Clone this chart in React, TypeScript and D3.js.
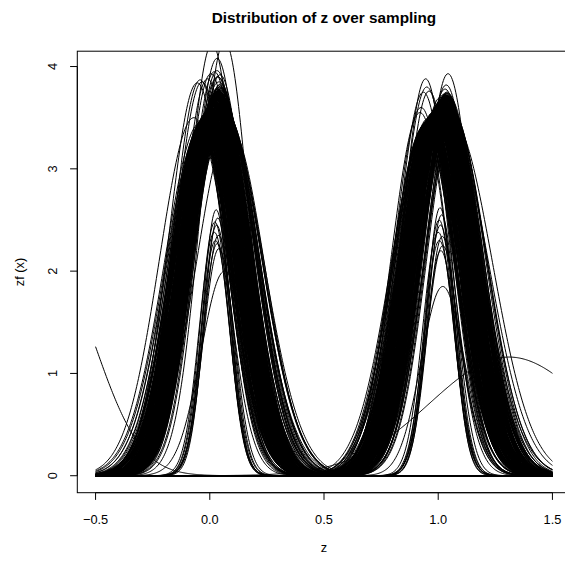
import React from "react";
import * as d3 from "d3";

// ---- Data ----
const TITLE = "Distribution of z over sampling";
const X_LABEL = "z";
const Y_LABEL = "zf (x)";
const xTicks = [-0.5, 0, 0.5, 1, 1.5];
const xTickLabels = ["\u22120.5", "0.0", "0.5", "1.0", "1.5"];
const yTicks = [0, 1, 2, 3, 4];
const yTickLabels = ["0", "1", "2", "3", "4"];
const gridFrom = -0.5;
const gridTo = 1.5;
const gridN = 512;

// Bump around z = 0: centre, peak height and spread of each sampled density
const leftCenters = [
  0.012, -0.021, 0.034, 0.005, 0.048, -0.038, 0.019, 0.027, -0.009, 0.061,
  0.002, 0.041, -0.042, 0.015, 0.030, -0.015, 0.055, 0.008, -0.027, 0.022,
  0.037, -0.004, 0.068, 0.011, -0.033, 0.025, 0.046, -0.011, 0.018, 0.033,
  -0.031, 0.063, 0.001, 0.029, -0.045, 0.014, 0.052, -0.019, 0.024, 0.040,
  0.006, -0.034, 0.058, 0.017, -0.006, 0.036, 0.010, -0.024, 0.044, 0.021,
  0.072, -0.013, 0.031, 0.003, -0.040, 0.026, 0.050, -0.002, 0.016, 0.039,
  -0.029, 0.067, 0.009, 0.023, -0.044, 0.013, 0.047, -0.017, 0.028, 0.043,
  0.004, -0.036, 0.057, 0.020, -0.008, 0.035, 0.074, -0.022, 0.042, 0.019,
  0.018, -0.012, 0.041, 0.007, 0.029, -0.033, 0.054, 0.013, -0.004, 0.036,
  0.021, -0.026, 0.047, 0.002, 0.031, -0.018, 0.060, 0.010, -0.041, 0.024,
  0.039, -0.007, 0.070, 0.015, -0.039, 0.027, 0.044, -0.015, 0.019, 0.034,
  -0.028, 0.066, 0.004, 0.032, -0.043, 0.011, 0.050, -0.021, 0.026, 0.042,
  0.008, -0.036, 0.056, 0.016, -0.001, 0.038, 0.012, -0.023, 0.046, 0.022,
  0.065, -0.010, 0.033, 0.006, -0.037, 0.028, 0.052, 0.000, 0.017, 0.040,
  -0.030, 0.064, 0.009, 0.025, -0.045, 0.014, 0.048, -0.016, 0.030, 0.045,
  0.003, -0.038, 0.058, 0.020, -0.005, 0.023, -0.008, 0.037, 0.001, 0.049,
  -0.025, 0.016, 0.031, -0.014, 0.059, 0.005, 0.043, -0.019, 0.053, 0.011,
  0.024, -0.031, 0.035, 0.014, -0.039, 0.020, 0.036, -0.002, 0.068, 0.013,
  0.029, 0.047, -0.009, 0.020, 0.036, -0.034, 0.061, 0.003, 0.026, -0.026,
  0.012, 0.049, -0.005, 0.019, 0.037, 0.055, -0.043, 0.007, 0.021, 0.044,
];
const leftSds = [
  0.128, 0.135, 0.118, 0.142, 0.111, 0.150, 0.125, 0.131, 0.122, 0.146,
  0.137, 0.115, 0.156, 0.126, 0.133, 0.119, 0.140, 0.129, 0.108, 0.124,
  0.132, 0.121, 0.160, 0.127, 0.113, 0.136, 0.144, 0.117, 0.130, 0.123,
  0.139, 0.152, 0.126, 0.114, 0.147, 0.129, 0.120, 0.134, 0.105, 0.138,
  0.125, 0.131, 0.141, 0.116, 0.128, 0.122, 0.149, 0.112, 0.135, 0.127,
  0.158, 0.124, 0.119, 0.137, 0.130, 0.143, 0.110, 0.128, 0.133, 0.121,
  0.126, 0.148, 0.134, 0.118, 0.153, 0.131, 0.123, 0.139, 0.114, 0.129,
  0.136, 0.107, 0.145, 0.127, 0.120, 0.132, 0.163, 0.124, 0.130, 0.117,
  0.129, 0.140, 0.121, 0.134, 0.115, 0.146, 0.126, 0.131, 0.119, 0.137,
  0.123, 0.133, 0.150, 0.128, 0.112, 0.141, 0.125, 0.136, 0.118, 0.130,
  0.144, 0.120, 0.157, 0.127, 0.135, 0.109, 0.132, 0.124, 0.139, 0.126,
  0.131, 0.146, 0.117, 0.129, 0.122, 0.154, 0.128, 0.113, 0.137, 0.125,
  0.134, 0.119, 0.142, 0.126, 0.131, 0.121, 0.148, 0.130, 0.115, 0.127,
  0.161, 0.124, 0.136, 0.103, 0.129, 0.138, 0.122, 0.133, 0.126, 0.143,
  0.120, 0.151, 0.130, 0.116, 0.140, 0.127, 0.124, 0.135, 0.111, 0.132,
  0.128, 0.137, 0.145, 0.122, 0.130, 0.118, 0.134, 0.126, 0.147, 0.121,
  0.133, 0.125, 0.114, 0.139, 0.152, 0.129, 0.120, 0.136, 0.127, 0.131,
  0.124, 0.143, 0.130, 0.117, 0.128, 0.155, 0.135, 0.122, 0.140, 0.126,
  0.119, 0.132, 0.127, 0.148, 0.125, 0.138, 0.129, 0.113, 0.134, 0.142,
  0.130, 0.121, 0.136, 0.127, 0.165, 0.126, 0.131, 0.144, 0.123, 0.128,
];
const leftPeaks = [
  3.62, 3.48, 3.75, 3.55, 3.81, 3.40, 3.66, 3.70, 3.52, 3.58,
  3.60, 3.72, 3.45, 3.64, 3.78, 3.50, 3.68, 3.57, 3.46, 3.69,
  3.74, 3.53, 3.55, 3.61, 3.43, 3.71, 3.77, 3.51, 3.63, 3.73,
  3.47, 3.60, 3.56, 3.76, 3.38, 3.65, 3.79, 3.49, 3.67, 3.85,
  3.59, 3.44, 3.66, 3.62, 3.54, 3.71, 3.58, 3.47, 3.80, 3.64,
  3.50, 3.52, 3.70, 3.57, 3.42, 3.68, 3.74, 3.55, 3.61, 3.77,
  3.43, 3.57, 3.60, 3.72, 3.36, 3.63, 3.83, 3.50, 3.69, 3.75,
  3.56, 3.41, 3.62, 3.66, 3.53, 3.90, 3.45, 3.48, 3.73, 3.59,
  3.66, 3.55, 3.74, 3.60, 3.69, 3.47, 3.63, 3.62, 3.57, 3.76,
  3.70, 3.50, 3.71, 3.58, 3.67, 3.52, 3.59, 3.64, 3.44, 3.72,
  3.68, 3.56, 3.54, 3.61, 3.40, 3.73, 3.66, 3.53, 3.65, 3.78,
  3.49, 3.56, 3.59, 3.71, 3.38, 3.63, 3.69, 3.51, 3.68, 3.80,
  3.60, 3.46, 3.64, 3.66, 3.55, 3.72, 3.61, 3.50, 3.75, 3.67,
  3.52, 3.54, 3.70, 3.58, 3.43, 3.69, 3.71, 3.57, 3.63, 3.74,
  3.47, 3.58, 3.62, 3.70, 3.35, 3.64, 3.78, 3.52, 3.68, 3.72,
  3.59, 3.45, 3.61, 3.65, 3.56, 3.66, 3.53, 3.70, 3.58, 3.77,
  3.50, 3.64, 3.68, 3.55, 3.62, 3.60, 3.82, 3.49, 3.65, 3.63,
  3.69, 3.44, 3.72, 3.64, 3.42, 3.66, 3.73, 3.57, 3.54, 3.61,
  3.71, 3.76, 3.51, 3.65, 3.70, 3.46, 3.63, 3.58, 3.74, 3.48,
  3.62, 3.79, 3.55, 3.67, 3.73, 3.64, 3.41, 3.60, 3.69, 3.75,
];
// Individually visible curves of the z = 0 bump: [centre, peak, spread]
const leftSpecial: number[][] = [
  [0.035, 3.90, 0.115], [0.032, 3.96, 0.114], [-0.034, 3.85, 0.120], [0.020, 3.95, 0.115],
  [0.005, 3.93, 0.116], [0.032, 4.08, 0.111], [0.010, 4.22, 0.108], [0.065, 4.25, 0.107],
  [0.045, 3.92, 0.116], [-0.010, 3.88, 0.117], [-0.055, 3.84, 0.125], [-0.042, 3.87, 0.120],
  [-0.070, 3.50, 0.150], [0.090, 3.40, 0.150],
  [0.030, 2.45, 0.062], [0.025, 2.30, 0.064], [0.035, 2.52, 0.060], [0.020, 2.38, 0.066],
  [0.040, 2.22, 0.068], [0.028, 2.60, 0.060], [0.033, 2.27, 0.065], [0.022, 2.48, 0.063],
  [0.038, 2.35, 0.064], [0.065, 2.00, 0.103],
];

// Bump around z = 1
const rightCenters = [
  1.000, 0.975, 1.025, 0.990, 1.040, 0.960, 1.010, 1.020, 0.985, 1.055,
  0.995, 1.035, 0.950, 1.005, 1.028, 0.980, 1.048, 1.002, 0.968, 1.015,
  1.032, 0.992, 1.065, 1.008, 0.955, 1.018, 1.042, 0.988, 1.012, 1.030,
  0.970, 1.058, 0.998, 1.025, 0.940, 1.006, 1.045, 0.978, 1.016, 1.036,
  1.001, 0.962, 1.052, 1.011, 0.986, 1.030, 1.004, 0.973, 1.040, 1.014,
  1.068, 0.983, 1.022, 0.996, 0.948, 1.019, 1.046, 0.994, 1.009, 1.033,
  0.966, 1.062, 1.003, 1.017, 0.935, 1.007, 1.038, 0.981, 1.021, 1.035,
  0.999, 0.958, 1.050, 1.013, 0.989, 1.027, 1.070, 0.976, 1.043, 1.010,
  1.008, 0.978, 1.031, 0.994, 1.046, 0.964, 1.014, 1.024, 0.987, 1.059,
  1.000, 1.038, 0.952, 1.009, 1.026, 0.982, 1.051, 1.004, 0.971, 1.018,
  1.034, 0.991, 1.066, 1.011, 0.958, 1.021, 1.044, 0.985, 1.015, 1.028,
  0.968, 1.055, 0.997, 1.027, 0.943, 1.003, 1.041, 0.976, 1.019, 1.037,
  0.998, 0.959, 1.049, 1.013, 0.984, 1.032, 1.006, 0.975, 1.042, 1.016,
  1.066, 0.980, 1.024, 0.993, 0.950, 1.017, 1.047, 0.991, 1.011, 1.035,
  0.963, 1.060, 1.000, 1.019, 0.938, 1.005, 1.039, 0.979, 1.023, 1.033,
  0.996, 0.955, 1.053, 1.010, 0.987, 1.003, 0.972, 1.027, 0.988, 1.043,
  0.957, 1.012, 1.022, 0.983, 1.057, 0.997, 1.033, 0.947, 1.007, 1.030,
  0.977, 1.050, 1.000, 0.965, 1.020, 0.990, 1.062, 1.008, 0.942, 1.014,
  1.029, 0.986, 1.040, 0.999, 1.054, 0.969, 1.006, 1.021, 0.961, 1.037,
  1.012, 0.975, 1.045, 0.995, 1.026, 0.953, 1.016, 1.034, 0.982, 1.048,
];
const rightSds = [
  0.131, 0.124, 0.140, 0.119, 0.135, 0.152, 0.127, 0.116, 0.138, 0.129,
  0.122, 0.147, 0.130, 0.113, 0.141, 0.126, 0.158, 0.121, 0.134, 0.110,
  0.137, 0.128, 0.119, 0.145, 0.132, 0.124, 0.150, 0.130, 0.115, 0.139,
  0.126, 0.133, 0.162, 0.118, 0.129, 0.143, 0.121, 0.136, 0.108, 0.131,
  0.140, 0.125, 0.117, 0.133, 0.148, 0.127, 0.122, 0.137, 0.130, 0.144,
  0.119, 0.135, 0.128, 0.155, 0.124, 0.131, 0.114, 0.142, 0.126, 0.136,
  0.130, 0.121, 0.146, 0.127, 0.138, 0.112, 0.134, 0.125, 0.151, 0.123,
  0.136, 0.129, 0.120, 0.141, 0.126, 0.167, 0.131, 0.118, 0.134, 0.128,
  0.125, 0.139, 0.132, 0.116, 0.144, 0.130, 0.123, 0.137, 0.127, 0.153,
  0.133, 0.118, 0.149, 0.129, 0.121, 0.136, 0.126, 0.142, 0.115, 0.131,
  0.127, 0.144, 0.124, 0.135, 0.111, 0.130, 0.139, 0.122, 0.157, 0.128,
  0.138, 0.126, 0.133, 0.120, 0.147, 0.129, 0.116, 0.134, 0.125, 0.140,
  0.123, 0.136, 0.128, 0.152, 0.130, 0.119, 0.141, 0.127, 0.132, 0.114,
  0.146, 0.131, 0.122, 0.137, 0.125, 0.160, 0.128, 0.133, 0.118, 0.135,
  0.129, 0.120, 0.143, 0.126, 0.139, 0.124, 0.131, 0.106, 0.136, 0.127,
  0.134, 0.142, 0.125, 0.130, 0.117, 0.138, 0.122, 0.148, 0.129, 0.133,
  0.121, 0.137, 0.128, 0.145, 0.126, 0.132, 0.119, 0.140, 0.135, 0.124,
  0.139, 0.126, 0.154, 0.123, 0.131, 0.128, 0.143, 0.120, 0.136, 0.130,
  0.125, 0.148, 0.132, 0.118, 0.141, 0.127, 0.134, 0.129, 0.112, 0.145,
  0.132, 0.123, 0.137, 0.164, 0.128, 0.135, 0.121, 0.139, 0.126, 0.130,
];
const rightPeaks = [
  3.62, 3.55, 3.68, 3.58, 3.64, 3.50, 3.70, 3.66, 3.56, 3.57,
  3.61, 3.72, 3.46, 3.65, 3.69, 3.53, 3.63, 3.60, 3.49, 3.67,
  3.71, 3.57, 3.52, 3.62, 3.45, 3.68, 3.66, 3.55, 3.64, 3.70,
  3.51, 3.58, 3.59, 3.73, 3.42, 3.63, 3.69, 3.52, 3.66, 3.74,
  3.60, 3.48, 3.61, 3.65, 3.54, 3.70, 3.59, 3.50, 3.72, 3.64,
  3.48, 3.54, 3.69, 3.58, 3.44, 3.67, 3.68, 3.56, 3.62, 3.71,
  3.47, 3.55, 3.61, 3.68, 3.40, 3.63, 3.75, 3.53, 3.66, 3.70,
  3.57, 3.47, 3.62, 3.64, 3.55, 3.35, 3.48, 3.52, 3.69, 3.60,
  3.64, 3.54, 3.70, 3.59, 3.62, 3.49, 3.68, 3.65, 3.57, 3.55,
  3.61, 3.71, 3.45, 3.66, 3.68, 3.52, 3.61, 3.62, 3.50, 3.67,
  3.72, 3.56, 3.50, 3.63, 3.47, 3.69, 3.65, 3.55, 3.65, 3.71,
  3.51, 3.57, 3.58, 3.72, 3.43, 3.62, 3.70, 3.54, 3.67, 3.73,
  3.59, 3.47, 3.63, 3.64, 3.56, 3.69, 3.60, 3.51, 3.71, 3.65,
  3.49, 3.54, 3.68, 3.58, 3.44, 3.66, 3.67, 3.57, 3.63, 3.70,
  3.48, 3.56, 3.62, 3.69, 3.41, 3.64, 3.74, 3.54, 3.67, 3.71,
  3.58, 3.46, 3.63, 3.65, 3.56, 3.60, 3.51, 3.68, 3.55, 3.66,
  3.49, 3.66, 3.69, 3.55, 3.57, 3.61, 3.70, 3.45, 3.64, 3.72,
  3.53, 3.62, 3.60, 3.50, 3.68, 3.57, 3.56, 3.65, 3.43, 3.67,
  3.70, 3.55, 3.66, 3.59, 3.60, 3.50, 3.64, 3.69, 3.48, 3.71,
  3.63, 3.52, 3.67, 3.58, 3.70, 3.47, 3.66, 3.71, 3.54, 3.62,
];
// Individually visible curves of the z = 1 bump: [centre, peak, spread]
const rightSpecial: number[][] = [
  [0.950, 3.80, 0.115], [0.945, 3.88, 0.105], [0.935, 3.75, 0.115], [1.043, 3.93, 0.110],
  [1.035, 3.82, 0.115], [0.925, 3.60, 0.120], [0.960, 3.76, 0.112], [1.030, 3.78, 0.118],
  [1.050, 3.70, 0.125], [0.920, 3.55, 0.125], [1.065, 3.45, 0.172], [1.055, 3.38, 0.168],
  [0.950, 3.45, 0.155],
  [1.010, 2.45, 0.064], [1.005, 2.30, 0.066], [1.015, 2.55, 0.062], [1.000, 2.38, 0.068],
  [1.020, 2.25, 0.070], [1.008, 2.62, 0.060], [1.012, 2.20, 0.067], [1.004, 2.50, 0.063],
  [1.018, 2.34, 0.065], [1.020, 1.85, 0.095],
];

// Odd broad curves: [centre, peak, spread]
const outlierCurves: number[][] = [
  [-0.70, 2.08, 0.20],
  [1.31, 1.16, 0.35],
];

// ---- Layout ----
const W = 565;
const H = 565;
const xScale = d3.scaleLinear().domain([-0.58, 1.58]).range([77.3, 570.7]);
const yScale = d3.scaleLinear().domain([-0.166, 4.15]).range([492.7, 51.2]);

const grid = d3.range(gridN).map((i) => gridFrom + ((gridTo - gridFrom) * i) / (gridN - 1));

const bump = (c: number, h: number, s: number) => (x: number) => {
  const t = (x - c) / s;
  return h * Math.exp(-0.5 * t * t);
};

const line = d3
  .line<[number, number]>()
  .x((d) => xScale(d[0]))
  .y((d) => yScale(d[1]));

function curvePath(f: (x: number) => number) {
  return line(grid.map((x) => [x, f(x)] as [number, number])) || "";
}

const curves: number[][] = [
  ...leftCenters.map((c, i) => [c, leftPeaks[i], leftSds[i]]),
  ...leftSpecial,
  ...rightCenters.map((c, i) => [c, rightPeaks[i], rightSds[i]]),
  ...rightSpecial,
  ...outlierCurves,
];

const paths: string[] = curves.map(([c, h, s]) => curvePath(bump(c, h, s)));

const FONT = "'Liberation Sans', Arial, Helvetica, sans-serif";

export default function App() {
  const [x0, x1] = xScale.range();
  const [yb, yt] = yScale.range();
  return (
    <svg
      width={W}
      height={H}
      viewBox={`0 0 ${W} ${H}`}
      style={{ position: "absolute", left: 0, top: 0, background: "#fff" }}
      fontFamily={FONT}
    >
      <rect x={0} y={0} width={W} height={H} fill="#fff" />
      <defs>
        <clipPath id="plotClip">
          <rect x={x0} y={yt} width={x1 - x0} height={yb - yt} />
        </clipPath>
      </defs>
      <g clipPath="url(#plotClip)" fill="none" stroke="#000" strokeWidth={1}>
        {paths.map((d, i) => (
          <path key={i} d={d} />
        ))}
      </g>
      <rect x={x0} y={yt} width={x1 - x0} height={yb - yt} fill="none" stroke="#000" strokeWidth={1} />
      <line x1={xScale(xTicks[0])} x2={xScale(xTicks[xTicks.length - 1])} y1={yb} y2={yb} stroke="#000" />
      {xTicks.map((t, i) => (
        <g key={t}>
          <line x1={xScale(t)} x2={xScale(t)} y1={yb} y2={yb + 7.2} stroke="#000" />
          <text x={xScale(t)} y={524} textAnchor="middle" fontSize={12.8} fill="#000">
            {xTickLabels[i]}
          </text>
        </g>
      ))}
      <line x1={x0} x2={x0} y1={yScale(yTicks[0])} y2={yScale(yTicks[yTicks.length - 1])} stroke="#000" />
      {yTicks.map((t, i) => (
        <g key={t}>
          <line x1={x0} x2={x0 - 7.2} y1={yScale(t)} y2={yScale(t)} stroke="#000" />
          <text
            transform={`translate(53,${yScale(t)}) rotate(-90)`}
            textAnchor="middle"
            dy="0.35em"
            fontSize={12.8}
            fill="#000"
          >
            {yTickLabels[i]}
          </text>
        </g>
      ))}
      <text x={(x0 + x1) / 2} y={552} textAnchor="middle" fontSize={12.8} fill="#000">
        {X_LABEL}
      </text>
      <text
        transform={`translate(20,${(yb + yt) / 2}) rotate(-90)`}
        textAnchor="middle"
        dy="0.35em"
        fontSize={12.8}
        fill="#000"
      >
        {Y_LABEL}
      </text>
      <text x={(x0 + x1) / 2} y={23} textAnchor="middle" fontSize={15.3} fontWeight="bold" fill="#000">
        {TITLE}
      </text>
    </svg>
  );
}
